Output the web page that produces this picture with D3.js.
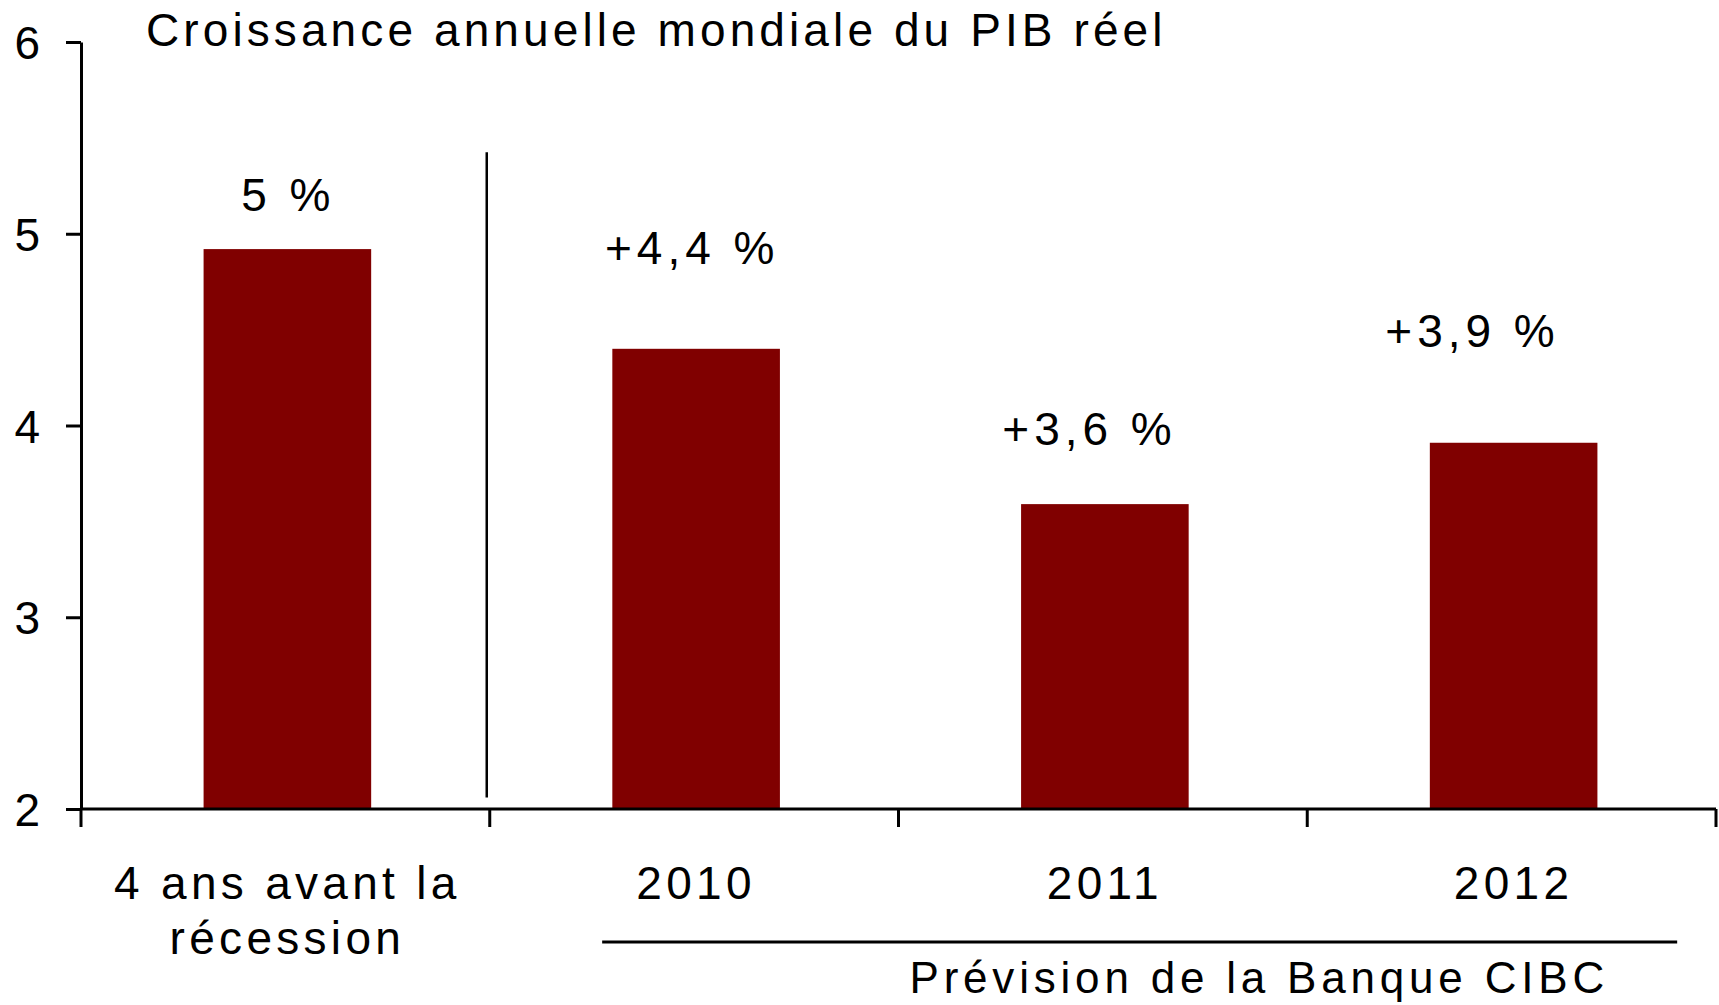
<!DOCTYPE html>
<html>
<head>
<meta charset="utf-8">
<script src="https://cdn.jsdelivr.net/npm/d3@7"></script>
<style>
  body { margin: 0; background: #fff; }
  text { font-family: "Liberation Sans", Arial, sans-serif; fill: #000; }
</style>
</head>
<body>
<div id="chart"></div>
<script>
var categories = [["4 ans avant la", "récession"], ["2010"], ["2011"], ["2012"]];
var growth = [4.92, 4.40, 3.59, 3.91];
var valueLabels = ["5 %", "+4,4 %", "+3,6 %", "+3,9 %"];
// where each annotation sits: level on the value axis, shift as a share of the band
var labelLevel = [5.12, 4.84, 3.90, 4.41];
var labelShift = [0, -0.012, -0.04, -0.103];
var yTicks = [2, 3, 4, 5, 6];
var title = "Croissance annuelle mondiale du PIB réel";
var forecastNote = "Prévision de la Banque CIBC";

var width = 1719, height = 1005;
var margin = {top: 42, right: 3, bottom: 196, left: 81};
var barColor = '#800000';

var svg = d3.select("#chart").append("svg")
    .attr("width", width)
    .attr("height", height);

var ids = categories.map(function(d, i) { return i; });

var x = d3.scaleBand().domain(ids).range([margin.left, width - margin.right]).padding(0);
var y = d3.scaleLinear().domain([2, 6]).range([height - margin.bottom, margin.top]);
var bw = x.bandwidth();
var barW = bw * 0.41;

// bars
svg.selectAll("rect.bar")
    .data(growth).enter()
    .append("rect")
    .attr("class", "bar")
    .attr("x", function(d, i) { return x(i) + bw / 2 - barW / 2 + 2; })
    .attr("y", function(d) { return y(d); })
    .attr("width", barW)
    .attr("height", function(d) { return y(2) - y(d); })
    .attr("fill", barColor);

// y axis
var yAxis = d3.axisLeft(y).tickValues(yTicks).tickSize(15).tickSizeOuter(0).tickPadding(26)
    .tickFormat(d3.format("d"));
var gy = svg.append("g")
    .attr("transform", "translate(" + margin.left + ",0)")
    .call(yAxis);
gy.select(".domain").attr("stroke", "#000").attr("stroke-width", 3);
gy.selectAll(".tick line").attr("stroke", "#000").attr("stroke-width", 3);
gy.selectAll(".tick text")
    .attr("font-family", "Liberation Sans, Arial, sans-serif")
    .attr("font-size", 46)
    .attr("dy", "0.36em")
    .attr("fill", "#000");

// x axis: line and ticks at band boundaries
var xBase = y(2);
svg.append("line")
    .attr("x1", x.range()[0]).attr("x2", x.range()[1])
    .attr("y1", xBase).attr("y2", xBase)
    .attr("stroke", "#000").attr("stroke-width", 3);

var bounds = ids.map(function(i) { return x(i); }).concat([x.range()[1]]);
svg.selectAll("line.xtick")
    .data(bounds).enter()
    .append("line")
    .attr("class", "xtick")
    .attr("x1", function(d) { return d; }).attr("x2", function(d) { return d; })
    .attr("y1", xBase).attr("y2", xBase + 18)
    .attr("stroke", "#000").attr("stroke-width", 3);

// category labels
var catText = svg.selectAll("text.cat")
    .data(categories).enter()
    .append("text")
    .attr("class", "cat")
    .attr("text-anchor", "middle")
    .attr("font-size", 46)
    .attr("letter-spacing", "4.3px")
    .attr("y", xBase + 90);
catText.selectAll("tspan")
    .data(function(d, i) { return d.map(function(t) { return {t: t, i: i}; }); })
    .enter().append("tspan")
    .attr("x", function(d) { return x(d.i) + bw / 2 + 2; })
    .attr("dy", function(d, j) { return j === 0 ? 0 : 55; })
    .text(function(d) { return d.t; });

// value annotations
svg.selectAll("text.val")
    .data(valueLabels).enter()
    .append("text")
    .attr("class", "val")
    .attr("text-anchor", "middle")
    .attr("font-size", 46)
    .attr("letter-spacing", "5px")
    .attr("x", function(d, i) { return x(i) + bw / 2 + bw * labelShift[i] + 3; })
    .attr("y", function(d, i) { return y(labelLevel[i]); })
    .text(function(d) { return d; });

// separator between history and forecast
svg.append("line")
    .attr("x1", x(1) - 3).attr("x2", x(1) - 3)
    .attr("y1", y(5.425)).attr("y2", y(2.06))
    .attr("stroke", "#000").attr("stroke-width", 2.5);

// forecast bracket
var fy = xBase + 133;
svg.append("line")
    .attr("x1", x(1) + bw * 0.275).attr("x2", x.range()[1] - bw * 0.095)
    .attr("y1", fy).attr("y2", fy)
    .attr("stroke", "#000").attr("stroke-width", 3);

svg.append("text")
    .attr("x", x(2) + 11)
    .attr("y", fy + 51)
    .attr("font-size", 44)
    .attr("letter-spacing", "4.8px")
    .text(forecastNote);

// title
svg.append("text")
    .attr("x", 146)
    .attr("y", 46)
    .attr("font-size", 46)
    .attr("letter-spacing", "4.1px")
    .text(title);
</script>
</body>
</html>
